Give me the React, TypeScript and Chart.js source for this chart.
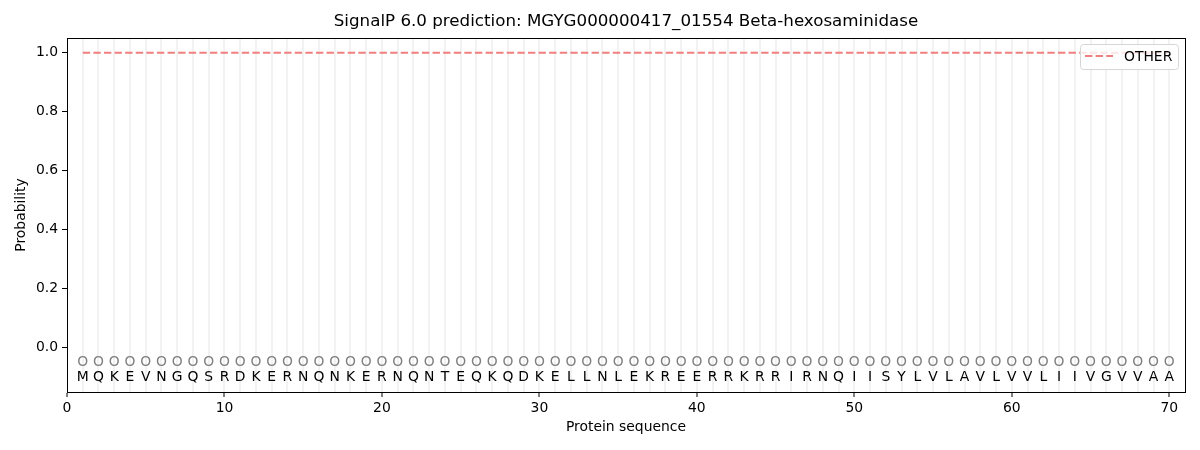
import React, { useEffect, useRef } from "react";
import { Chart, registerables } from "chart.js";

Chart.register(...registerables);

const TITLE = "SignalP 6.0 prediction: MGYG000000417_01554 Beta-hexosaminidase";
const RESIDUES = "MQKEVNGQSRDKERNQNKERNQNTEQKQDKELLNLEKREERRKRRIRNQIISYLVLAVLVVLIIVGVVAA".split("");
const PRED_LABELS = "OOOOOOOOOOOOOOOOOOOOOOOOOOOOOOOOOOOOOOOOOOOOOOOOOOOOOOOOOOOOOOOOOOOOOO".split("");
const POSITIONS = RESIDUES.map((_, i) => i + 1);
const OTHER_PROB = [
  1, 1, 1, 1, 1, 1, 1, 1, 1, 1, 1, 1, 1, 1, 1, 1, 1, 1, 1, 1,
  1, 1, 1, 1, 1, 1, 1, 1, 1, 1, 1, 1, 1, 1, 1, 1, 1, 1, 1, 1,
  1, 1, 1, 1, 1, 1, 1, 1, 1, 1, 1, 1, 1, 1, 1, 1, 1, 1, 1, 1,
  1, 1, 1, 1, 1, 1, 1, 1, 1, 1,
];
const Y_TICKS = [0, 0.2, 0.4, 0.6, 0.8, 1.0];
const X_TICKS = [0, 10, 20, 30, 40, 50, 60, 70];
const PRED_Y = -0.05;
const RES_Y = -0.1;

const FONT = "'DejaVu Sans', sans-serif";
const FS = 13.9;
const LINE_COLOR = "#f08080";

const overlay = {
  id: "overlay",
  afterDatasetsDraw(chart: any) {
    const { ctx, chartArea, scales } = chart;
    const xs = scales.x;
    const ys = scales.y;
    ctx.save();
    ctx.textAlign = "center";
    ctx.textBaseline = "middle";
    ctx.font = `${FS}px ${FONT}`;
    POSITIONS.forEach((p, i) => {
      const x = xs.getPixelForValue(p);
      ctx.fillStyle = "#808080";
      ctx.fillText(PRED_LABELS[i], x, ys.getPixelForValue(PRED_Y));
      ctx.fillStyle = "#000";
      ctx.fillText(RESIDUES[i], x, ys.getPixelForValue(RES_Y));
    });
    // frame
    ctx.strokeStyle = "#000";
    ctx.lineWidth = 1;
    ctx.strokeRect(
      Math.round(chartArea.left) + 0.5,
      Math.round(chartArea.top) + 0.5,
      Math.round(chartArea.right - chartArea.left),
      Math.round(chartArea.bottom - chartArea.top)
    );
    // legend
    const bw = 98, bh = 25;
    const bx = chartArea.right - 7 - bw;
    const by = chartArea.top + 6;
    ctx.beginPath();
    (ctx as any).roundRect(bx + 0.5, by + 0.5, bw, bh, 3);
    ctx.fillStyle = "rgba(255,255,255,0.8)";
    ctx.fill();
    ctx.strokeStyle = "#d6d6d6";
    ctx.stroke();
    ctx.beginPath();
    ctx.setLineDash([7.4, 3.2]);
    ctx.strokeStyle = LINE_COLOR;
    ctx.lineWidth = 2;
    ctx.moveTo(bx + 5, by + 12);
    ctx.lineTo(bx + 33, by + 12);
    ctx.stroke();
    ctx.setLineDash([]);
    ctx.fillStyle = "#000";
    ctx.textAlign = "left";
    ctx.font = `${FS}px ${FONT}`;
    ctx.fillText("OTHER", bx + 44, by + 13);
    // title
    ctx.textAlign = "center";
    ctx.font = `16.7px ${FONT}`;
    ctx.fillText(TITLE, (chartArea.left + chartArea.right) / 2, 22);
    ctx.restore();
  },
};

export default function App() {
  const ref = useRef<HTMLCanvasElement>(null);
  useEffect(() => {
    document.body.style.margin = "0";
    const chart = new Chart(ref.current!, {
      type: "line",
      data: {
        datasets: [
          {
            label: "OTHER",
            data: POSITIONS.map((p, i) => ({ x: p, y: OTHER_PROB[i] })),
            borderColor: LINE_COLOR,
            borderWidth: 2,
            borderDash: [7.4, 3.2],
            pointRadius: 0,
            fill: false,
          },
        ],
      },
      options: {
        animation: false,
        responsive: false,
        devicePixelRatio: 1,
        layout: { padding: { top: 38, right: 15, left: 0, bottom: 0 } },
        plugins: { legend: { display: false }, title: { display: false }, tooltip: { enabled: false } },
        scales: {
          x: {
            type: "linear",
            min: 0,
            max: 71,
            afterBuildTicks: (s: any) => {
              s.ticks = Array.from({ length: 72 }, (_, i) => ({ value: i }));
            },
            afterFit: (s: any) => {
              s.height = 58;
            },
            ticks: {
              autoSkip: false,
              maxRotation: 0,
              padding: 3,
              color: "#000",
              font: { family: FONT, size: FS },
              callback: (v: any) => (X_TICKS.includes(Number(v)) ? String(v) : ""),
            },
            grid: {
              drawOnChartArea: true,
              lineWidth: 2,
              tickLength: 5,
              color: (c: any) => {
                const v = c.tick ? c.tick.value : -1;
                return v >= 1 && v <= 70 ? "#f2f2f2" : "rgba(0,0,0,0)";
              },
              tickColor: (c: any) => {
                const v = c.tick ? c.tick.value : -1;
                return X_TICKS.includes(v) ? "#000" : "rgba(0,0,0,0)";
              },
              tickWidth: 1,
            },
            border: { display: true, color: "#000", width: 1 },
            title: {
              display: true,
              text: "Protein sequence",
              color: "#000",
              font: { family: FONT, size: FS },
              padding: { top: 0, bottom: 14 },
            },
          },
          y: {
            type: "linear",
            min: -0.15,
            max: 1.05,
            afterBuildTicks: (s: any) => {
              s.ticks = Y_TICKS.map((v) => ({ value: v }));
            },
            afterFit: (s: any) => {
              s.width = 67;
            },
            ticks: {
              padding: 4,
              color: "#000",
              font: { family: FONT, size: FS },
              callback: (v: any) => Number(v).toFixed(1),
            },
            grid: {
              drawOnChartArea: false,
              tickLength: 5,
              tickColor: "#000",
              tickWidth: 1,
            },
            border: { display: true, color: "#000", width: 1 },
            title: {
              display: true,
              text: "Probability",
              color: "#000",
              font: { family: FONT, size: FS },
              padding: { top: 13, bottom: 0 },
            },
          },
        },
      },
      plugins: [overlay],
    });
    return () => chart.destroy();
  }, []);
  return <canvas ref={ref} width={1200} height={450} style={{ display: "block" }} />;
}
